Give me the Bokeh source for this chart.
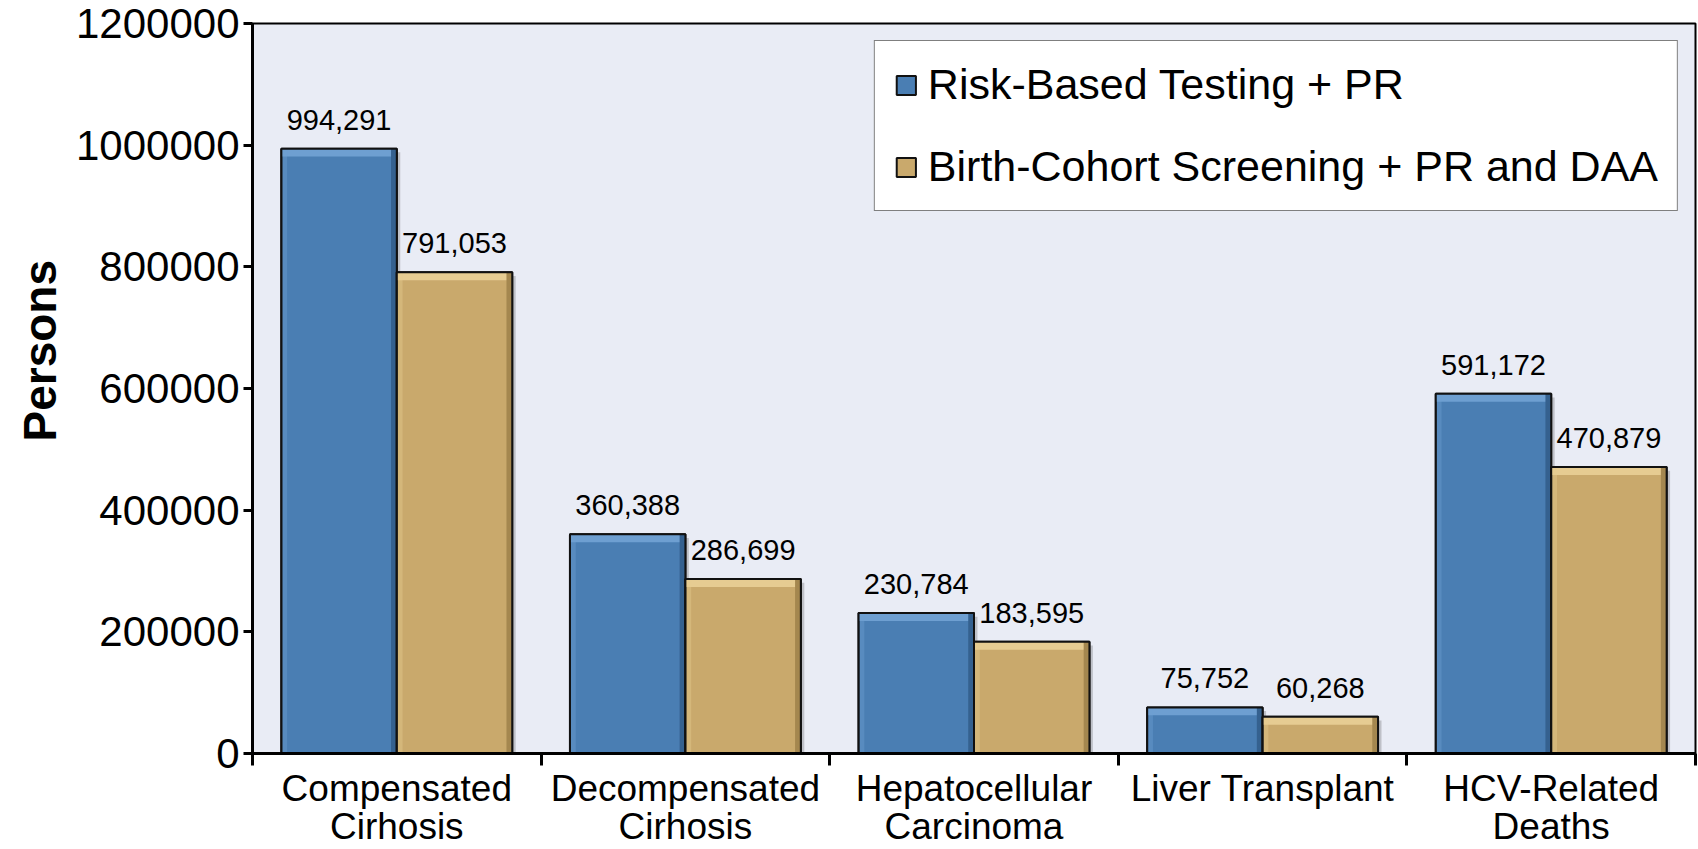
from bokeh.plotting import figure
from bokeh.models import (Range1d, FixedTicker, ColumnDataSource, Legend, LegendItem,
                          NumeralTickFormatter, Title)
from bokeh.transform import dodge
from bokeh.core.properties import value
from bokeh.embed import file_html
from bokeh.resources import INLINE

# ---- data ----
categories = ["Compensated\nCirhosis", "Decompensated\nCirhosis", "Hepatocellular\nCarcinoma",
              "Liver Transplant", "HCV-Related\nDeaths"]
risk_based = [994291, 360388, 230784, 75752, 591172]
birth_cohort = [791053, 286699, 183595, 60268, 470879]
series_names = ["Risk-Based Testing + PR", "Birth-Cohort Screening + PR and DAA"]
y_ticks = [0, 200000, 400000, 600000, 800000, 1000000, 1200000]
y_title = "Persons"

FONT = "Liberation Sans"
BLUE, BLUE_HI, BLUE_LO = "#4A7EB3", "#6E9FD1", "#35618F"
TAN, TAN_HI, TAN_LO = "#C9A96C", "#E6CC92", "#A4874F"
BEVEL = 13000  # data units (~8 px)

xs = [i + 0.5 for i in range(len(categories))]
src = ColumnDataSource(dict(
    x=xs,
    risk=risk_based,
    birth=birth_cohort,
    risk_b=[v - BEVEL for v in risk_based],
    birth_b=[v - BEVEL for v in birth_cohort],
    risk_s=[v - 6000 for v in risk_based],
    birth_s=[v - 6000 for v in birth_cohort],
    risk_lbl=[f"{v:,}" for v in risk_based],
    birth_lbl=[f"{v:,}" for v in birth_cohort],
))

p = figure(width=1698, height=849, output_backend="svg", toolbar_location=None,
           x_range=Range1d(0, len(categories)), y_range=Range1d(0, 1200000),
           min_border_left=252, min_border_right=3, min_border_top=23, min_border_bottom=94)
p.background_fill_color = "#E9ECF5"
p.border_fill_color = "white"
p.outline_line_color = "black"
p.outline_line_width = 2
p.xgrid.visible = False
p.ygrid.visible = False

W = 0.4
renderers = []
series = [("risk", "risk_b", "risk_s", "risk_lbl", -0.2, BLUE, BLUE_HI, BLUE_LO),
          ("birth", "birth_b", "birth_s", "birth_lbl", 0.2, TAN, TAN_HI, TAN_LO)]
# soft shadows first
for col, lo_col, s_col, lbl, off, c, chi, clo in series:
    p.vbar(x=dodge("x", off + 0.012), top=s_col, width=W, source=src,
           fill_color="black", fill_alpha=0.18, line_color=None)
for col, lo_col, s_col, lbl, off, c, chi, clo in series:
    r = p.vbar(x=dodge("x", off), top=col, width=W, source=src,
               fill_color=c, line_color="#111111", line_width=2)
    renderers.append(r)
    # bevel: light top band, dark right band, light left band
    p.vbar(x=dodge("x", off), top=col, bottom=lo_col, width=W, source=src,
           fill_color=chi, line_color=None)
    p.vbar(x=dodge("x", off + W / 2 - 0.01), top=col, width=0.02, source=src,
           fill_color=clo, line_color=None)
    p.vbar(x=dodge("x", off - W / 2 + 0.01), top=col, width=0.02, source=src,
           fill_color=chi, fill_alpha=0.4, line_color=None)
    p.vbar(x=dodge("x", off), top=col, width=W, source=src,
           fill_color=None, line_color="#111111", line_width=2)
    p.text(x=dodge("x", off), y=col, text=lbl, source=src, text_align="center",
           text_baseline="alphabetic", y_offset=-29, text_font=value(FONT),
           text_font_size="29px", text_color="black")

# x axis: labels at centres, ticks at boundaries
xa = p.xaxis[0]
xa.ticker = FixedTicker(ticks=xs, minor_ticks=list(range(len(categories) + 1)))
xa.major_label_overrides = {x: c for x, c in zip(xs, categories)}
xa.major_tick_line_color = None
xa.major_tick_out = 12
xa.major_tick_in = 0
xa.minor_tick_line_color = "black"
xa.minor_tick_line_width = 3
xa.minor_tick_out = 12
xa.minor_tick_in = 0
xa.axis_line_width = 3
xa.major_label_standoff = 2
xa.major_label_text_font = FONT
xa.major_label_text_font_size = "37px"
xa.major_label_text_line_height = 0.93
xa.major_label_text_color = "black"

ya = p.yaxis[0]
ya.ticker = FixedTicker(ticks=y_ticks)
ya.formatter = NumeralTickFormatter(format="0")
ya.major_tick_out = 9
ya.major_tick_in = 0
ya.major_tick_line_width = 3
ya.minor_tick_line_color = None
ya.axis_line_width = 3
ya.major_label_standoff = 4
ya.major_label_text_font = FONT
ya.major_label_text_font_size = "42px"
ya.major_label_text_color = "black"

# y-axis title, placed slightly above the frame centre like the reference
p.add_layout(Title(text=y_title, align="left", offset=312, text_font=FONT,
                   text_font_size="46px", text_font_style="bold", text_color="black",
                   standoff=14), "left")

legend = Legend(items=[LegendItem(label=series_names[0], renderers=[renderers[0]]),
                       LegendItem(label=series_names[1], renderers=[renderers[1]])],
                location="top_right", margin=17, padding=19, spacing=33,
                glyph_width=24, glyph_height=24, label_standoff=10, label_height=48,
                label_text_font=FONT, label_text_font_size="43px", label_text_color="black",
                border_line_color="black", border_line_width=1.5,
                background_fill_color="white", background_fill_alpha=1.0)
p.add_layout(legend)

with open("out.html", "w") as f:
    f.write(file_html(p, INLINE))
